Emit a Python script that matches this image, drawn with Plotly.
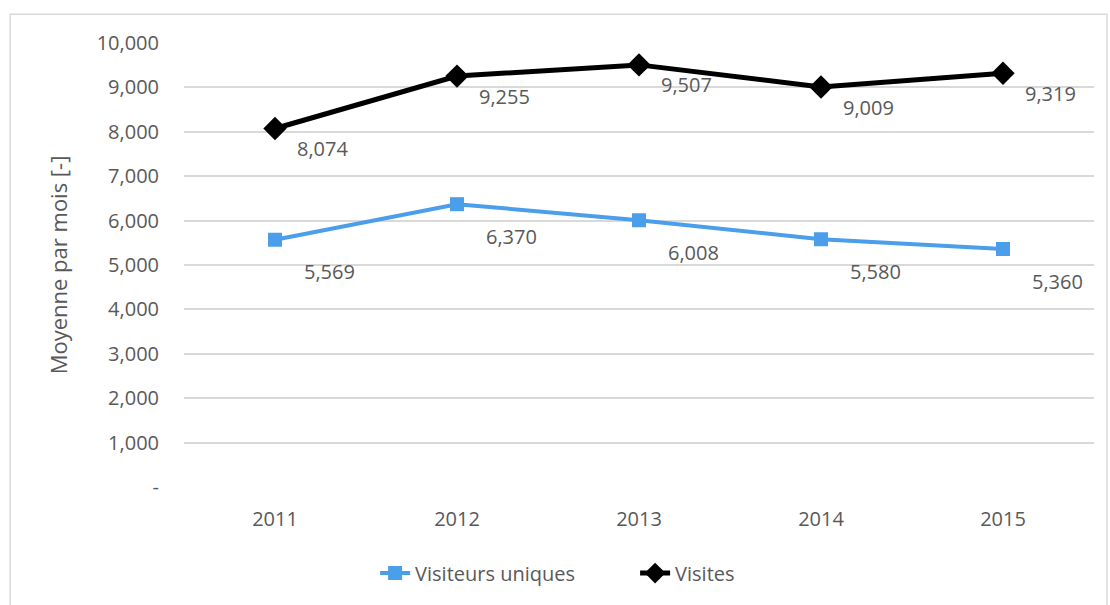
import plotly.graph_objects as go

# Données
annees = ["2011", "2012", "2013", "2014", "2015"]
visiteurs_uniques = [5569, 6370, 6008, 5580, 5360]
visites = [8074, 9255, 9507, 9009, 9319]

y_ticks = [0, 1000, 2000, 3000, 4000, 5000, 6000, 7000, 8000, 9000, 10000]
y_tick_labels = ["-"] + [f"{v:,}" for v in y_ticks[1:]]

BLEU = "#4A9EEA"
NOIR = "#000000"
GRIS_TEXTE = "#595959"
GRIS_GRILLE = "#D9D9D9"
POLICE = "Open Sans, sans-serif"

fig = go.Figure()

fig.add_trace(go.Scatter(
    x=annees, y=visiteurs_uniques,
    mode="lines+markers",
    name="Visiteurs uniques",
    line=dict(color=BLEU, width=4),
    marker=dict(symbol="square", size=14, color=BLEU),
))

fig.add_trace(go.Scatter(
    x=annees, y=visites,
    mode="lines+markers",
    name="Visites",
    line=dict(color=NOIR, width=5),
    marker=dict(symbol="diamond", size=18, color=NOIR),
))

# Étiquettes de données (en bas à droite des points)
for serie, dx, dy in [(visites, 47, -20), (visiteurs_uniques, 54, -32)]:
    for i, val in enumerate(serie):
        fig.add_annotation(
            x=i, y=val, xref="x", yref="y", text=f"{val:,}",
            showarrow=False, xanchor="center", yanchor="middle",
            xshift=dx, yshift=dy,
            font=dict(family=POLICE, size=20, color=GRIS_TEXTE),
        )

# Cadre du graphique
fig.add_shape(
    type="rect", xref="paper", yref="paper",
    x0=-0.191, x1=1.0143, y0=-0.3, y1=1.0647,
    line=dict(color=GRIS_GRILLE, width=1.5),
    layer="below",
)

fig.update_layout(
    width=1110, height=605,
    margin=dict(l=184, r=16, t=43, b=111),
    paper_bgcolor="white",
    plot_bgcolor="white",
    font=dict(family=POLICE, size=20, color=GRIS_TEXTE),
    showlegend=True,
    legend=dict(
        orientation="h",
        x=0.21, xanchor="left",
        y=-0.15, yanchor="top",
        entrywidth=215,
        entrywidthmode="pixels",
        font=dict(family=POLICE, size=20, color=GRIS_TEXTE),
    ),
)

fig.update_xaxes(
    type="category",
    range=[-0.5, 4.5],
    showgrid=False,
    showline=False,
    zeroline=False,
    ticks="",
    ticklabelstandoff=18,
    tickfont=dict(family=POLICE, size=20, color=GRIS_TEXTE),
)

fig.update_yaxes(
    range=[0, 10000],
    tickvals=y_ticks,
    ticktext=y_tick_labels,
    showgrid=True,
    gridcolor=GRIS_GRILLE,
    gridwidth=1.5,
    zeroline=False,
    showline=False,
    ticks="",
    ticklabelstandoff=24,
    tickfont=dict(family=POLICE, size=20, color=GRIS_TEXTE),
    title=dict(text="Moyenne par mois [-]", standoff=22,
               font=dict(family=POLICE, size=22, color=GRIS_TEXTE)),
)

fig.write_html("out.html", config={"displayModeBar": False},
               post_script="document.body.style.margin='0';")
